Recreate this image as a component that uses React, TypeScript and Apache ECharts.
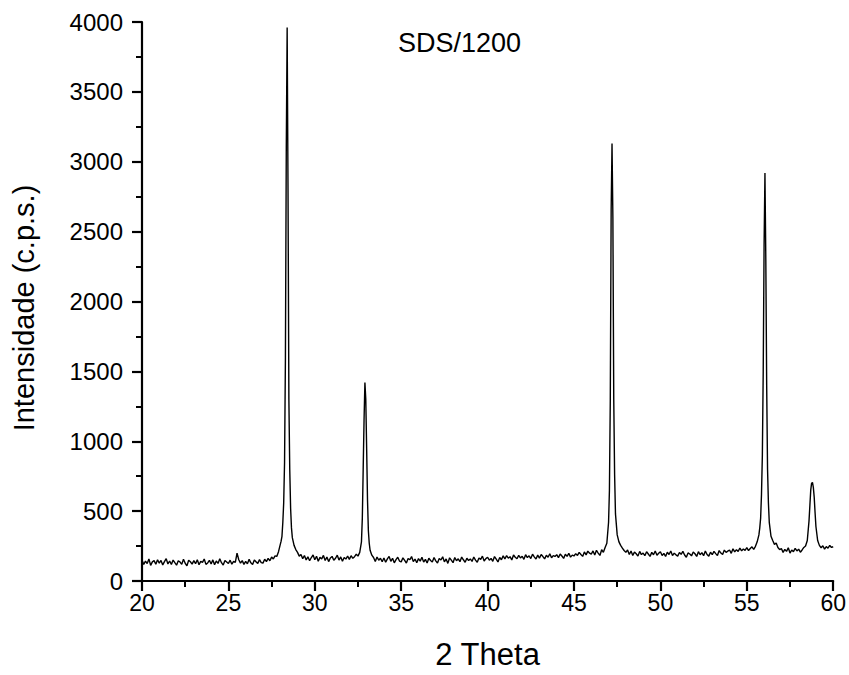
import React, { useEffect, useRef } from "react";
import * as echarts from "echarts";

// Scan grid: 2θ from 20° to 60° in 0.1° steps
const scanStart = 20;
const scanStep = 0.1;

// Intensity (c.p.s.), one row per degree (x.0 … x.9)
const intensity: number[] = [
  150, 118, 142, 125, 158, 112, 137, 146, 120, 152, // 20
  128, 147, 115, 139, 160, 122, 143, 118, 150, 131, // 21
  113, 145, 136, 119, 155, 127, 108, 149, 138, 121, // 22
  146, 124, 152, 116, 140, 133, 157, 119, 129, 148, // 23
  122, 151, 117, 143, 126, 159, 131, 114, 147, 136, // 24
  125, 149, 120, 141, 133, 200, 152, 128, 146, 119, // 25
  141, 123, 155, 130, 118, 150, 137, 126, 153, 132, // 26
  128, 156, 139, 162, 145, 171, 158, 180, 176, 210, // 27
  260, 320, 560, 1600, 3960, 1300, 520, 310, 255, 225, // 28
  205, 178, 190, 160, 182, 151, 173, 145, 168, 186, // 29
  152, 177, 141, 169, 158, 183, 147, 171, 139, 165, // 30
  176, 148, 163, 185, 150, 172, 141, 168, 157, 179, // 31
  155, 181, 162, 174, 192, 178, 205, 280, 800, 1420, // 32
  950, 360, 220, 185, 168, 140, 172, 149, 163, 138, // 33
  165, 134, 158, 176, 141, 162, 130, 153, 170, 143, // 34
  137, 166, 148, 128, 161, 152, 175, 139, 157, 131, // 35
  160, 142, 170, 135, 155, 129, 163, 147, 136, 168, // 36
  144, 129, 161, 150, 173, 137, 158, 126, 166, 149, // 37
  131, 168, 145, 159, 138, 171, 152, 134, 163, 147, // 38
  158, 140, 172, 149, 134, 165, 155, 178, 143, 160, // 39
  170, 149, 162, 141, 175, 157, 136, 168, 152, 180, // 40
  158, 181, 163, 174, 150, 186, 170, 159, 183, 165, // 41
  177, 155, 188, 168, 180, 161, 192, 173, 157, 185, // 42
  164, 190, 175, 158, 184, 170, 195, 166, 182, 176, // 43
  188, 167, 193, 179, 162, 191, 176, 198, 171, 185, // 44
  179, 196, 183, 205, 190, 176, 208, 187, 214, 199, // 45
  192, 215, 186, 220, 200, 183, 224, 205, 240, 270, // 46
  420, 1300, 3130, 1300, 480, 330, 280, 255, 235, 218, // 47
  205, 222, 190, 214, 183, 207, 195, 178, 212, 189, // 48
  200, 181, 210, 193, 176, 205, 188, 215, 184, 198, // 49
  209, 183, 197, 176, 206, 190, 215, 182, 199, 187, // 50
  178, 204, 191, 212, 186, 170, 201, 193, 180, 207, // 51
  195, 176, 210, 188, 203, 181, 214, 190, 178, 206, // 52
  188, 212, 196, 182, 218, 200, 190, 221, 205, 214, // 53
  222, 198, 230, 208, 224, 212, 236, 216, 229, 219, // 54
  238, 218, 232, 245, 226, 248, 280, 330, 450, 900, // 55
  2400, 2300, 800, 420, 320, 290, 262, 272, 240, 225, // 56
  232, 205, 226, 212, 238, 200, 222, 210, 234, 215, // 57
  228, 206, 222, 240, 250, 290, 430, 650, 705, 600, // 58
  390, 290, 255, 238, 252, 228, 246, 235, 255, 240, // 59
  245, // 60
];

// Extra half-step readings on the peak flanks: [2θ, intensity]
const peak284: [number, number][] = [
  [28.05, 285], [28.15, 420], [28.25, 850], [28.35, 3100], [28.45, 2800], [28.55, 800], [28.65, 380],
];
const peak329: [number, number][] = [
  [32.75, 450], [32.85, 1150], [32.95, 1300], [33.05, 580], [33.15, 270],
];
const peak472: [number, number][] = [
  [47.05, 650], [47.15, 2650], [47.25, 2600], [47.35, 760],
];
const peak560: [number, number][] = [
  [55.75, 380], [55.85, 620], [55.95, 1500], [56.05, 2920], [56.15, 1400], [56.25, 560],
];
const peak588: [number, number][] = [
  [58.65, 540], [58.75, 700], [58.85, 670], [58.95, 490],
];

const chartTitle = "SDS/1200";
const xName = "2 Theta";
const yName = "Intensidade (c.p.s.)";

const FONT = 'Arial, "Liberation Sans", sans-serif';

export default function App() {
  const ref = useRef<HTMLDivElement>(null);

  useEffect(() => {
    if (!ref.current) return;
    const chart = echarts.init(ref.current, null, { renderer: "svg" });

    const points: [number, number][] = intensity.map((v, i) => [
      Math.round((scanStart + i * scanStep) * 100) / 100,
      v,
    ]);
    const all = points
      .concat(peak284, peak329, peak472, peak560, peak588)
      .sort((a, b) => a[0] - b[0]);

    const axisCommon = {
      axisLine: { show: true, onZero: false, lineStyle: { color: "#000", width: 2.2 } },
      axisTick: { show: true, inside: false, length: 10, lineStyle: { color: "#000", width: 2.2 } },
      minorTick: { show: true, splitNumber: 2, length: 6, lineStyle: { color: "#000", width: 2 } },
      splitLine: { show: false },
      minorSplitLine: { show: false },
    };

    chart.setOption({
      animation: false,
      backgroundColor: "#fff",
      title: {
        text: chartTitle,
        left: 393,
        top: 24,
        textStyle: { fontFamily: FONT, fontSize: 27, fontWeight: "normal", color: "#000" },
      },
      grid: { left: 142, right: 14, top: 22, bottom: 87, containLabel: false },
      graphic: [
        {
          type: "text",
          x: 24,
          y: 308,
          rotation: Math.PI / 2,
          style: {
            text: yName,
            fontFamily: FONT,
            fontSize: 29,
            fill: "#000",
            align: "center",
            verticalAlign: "middle",
            textAlign: "center",
            textVerticalAlign: "middle",
          },
        },
      ],
      xAxis: {
        type: "value",
        min: 20,
        max: 60,
        interval: 5,
        name: xName,
        nameLocation: "middle",
        nameGap: 58,
        nameTextStyle: { fontFamily: FONT, fontSize: 31, color: "#000" },
        axisLabel: { fontFamily: FONT, fontSize: 23, color: "#000", margin: 10 },
        ...axisCommon,
      },
      yAxis: {
        type: "value",
        min: 0,
        max: 4000,
        interval: 500,
        axisLabel: {
          fontFamily: FONT,
          fontSize: 24,
          color: "#000",
          margin: 19,
          formatter: (v: number) => String(v),
        },
        ...axisCommon,
      },
      series: [
        {
          type: "line",
          data: all,
          showSymbol: false,
          symbol: "none",
          lineStyle: { color: "#000", width: 1.4 },
          smooth: false,
        },
      ],
    });

    return () => chart.dispose();
  }, []);

  return <div ref={ref} style={{ width: 849, height: 675, position: "absolute", left: 0, top: 0 }} />;
}
